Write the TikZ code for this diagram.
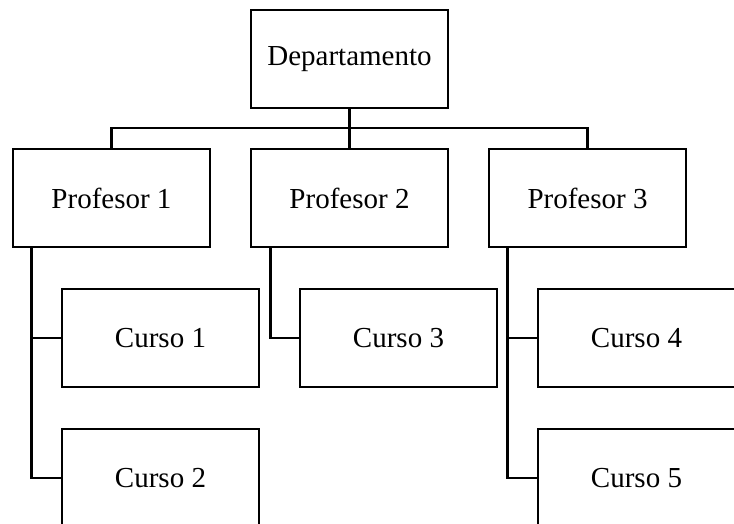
\documentclass[tikz,border=0pt]{standalone}
\usepackage{fontspec}
\setmainfont{Liberation Serif}
\begin{document}
\begin{tikzpicture}[x=1pt,y=-1pt,
  box/.style={draw, line width=2.8pt, rectangle, minimum width=197pt, minimum height=98pt, inner sep=0pt, font=\fontsize{29}{34}\selectfont},
  link/.style={line width=2.8pt}]
\useasboundingbox (0,0) rectangle (734,524);
\clip (0,0) rectangle (734,524);

% head and professors
\node[box] (dep) at (349.5,59) {Departamento};
\node[box] (p1) at (111.5,198) {Profesor 1};
\node[box] (p2) at (349.5,198) {Profesor 2};
\node[box] (p3) at (587.5,198) {Profesor 3};

% courses
\node[box] (c1) at (160.5,338) {Curso 1};
\node[box] (c2) at (160.5,478) {Curso 2};
\node[box] (c3) at (398.5,338) {Curso 3};
\node[box] (c4) at (636.5,338) {Curso 4};
\node[box] (c5) at (636.5,478) {Curso 5};

% bus from the department to each professor
\coordinate (bus) at (349.5,128);
\draw[link] (dep.south) -- (p2.north);
\draw[link] (p1.north) |- (bus) -| (p3.north);

% professor-to-course links
\coordinate (t1) at ([xshift=20pt]p1.south west);
\coordinate (t2) at ([xshift=21pt]p2.south west);
\coordinate (t3) at ([xshift=20pt]p3.south west);
\draw[link] (t1) |- (c2.west);
\draw[link] (t1 |- c1.west) -- (c1.west);
\draw[link] (t2) |- (c3.west);
\draw[link] (t3) |- (c5.west);
\draw[link] (t3 |- c4.west) -- (c4.west);
\end{tikzpicture}
\end{document}
